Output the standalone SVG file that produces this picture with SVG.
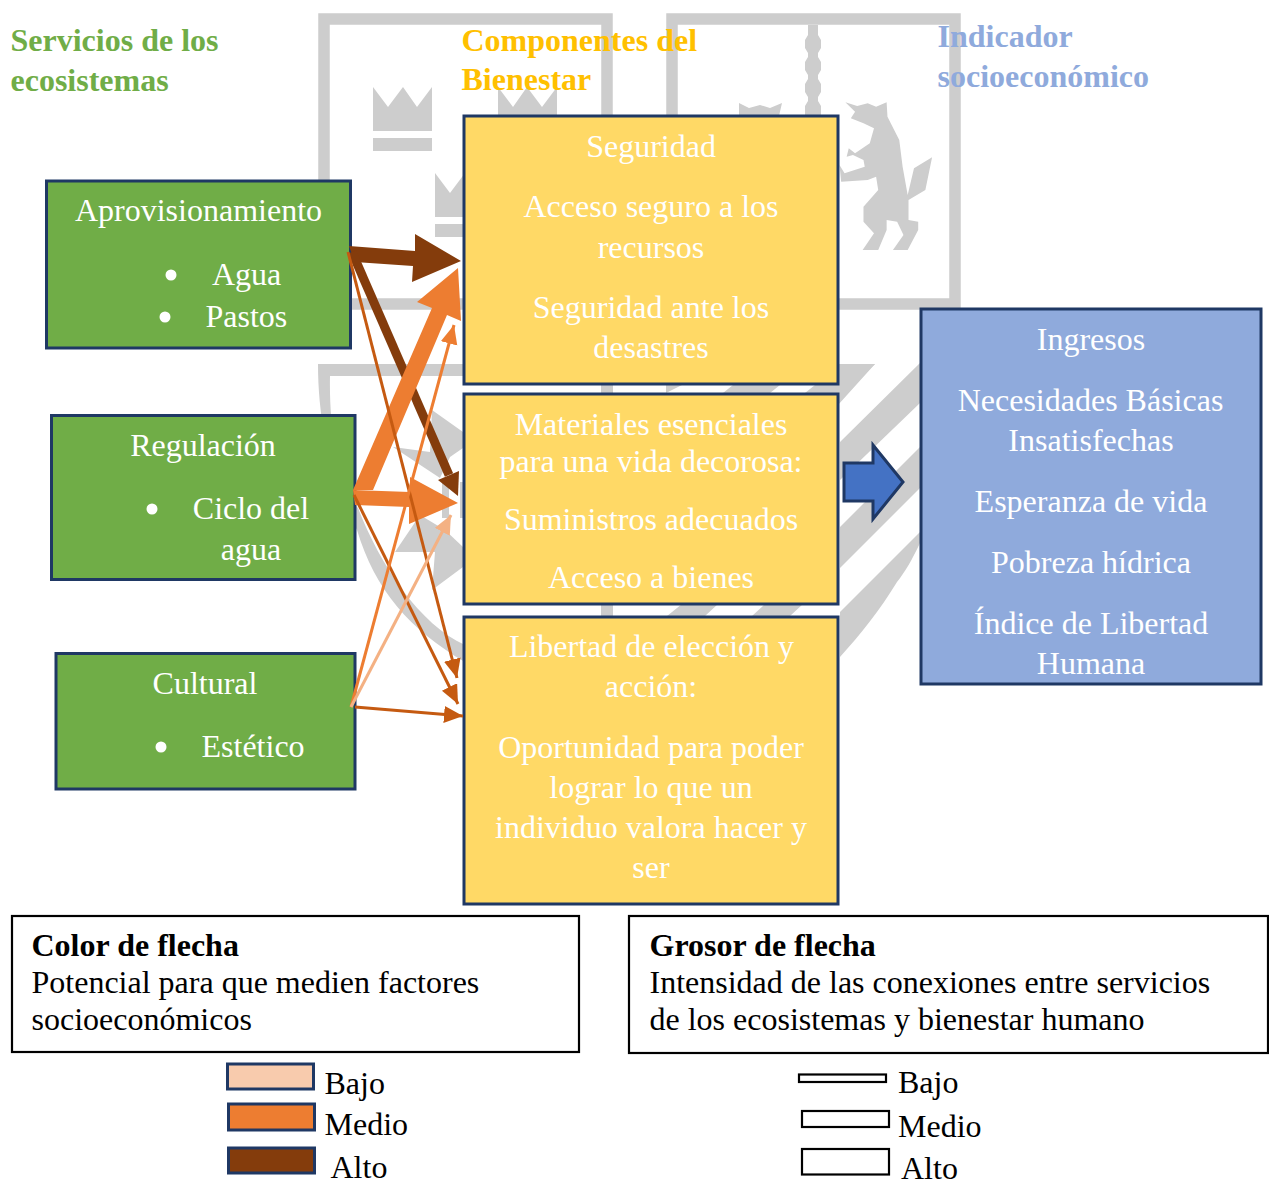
<svg xmlns="http://www.w3.org/2000/svg" width="1269" height="1179" viewBox="0 0 1269 1179">
<style>
text{font-family:"Liberation Serif","Times New Roman",serif}
.t{font-size:32px;fill:#fff}
.m{text-anchor:middle}
.h{font-size:32px;font-weight:700}
.l{font-size:32px;fill:#000}
.b{stroke:#1f3864;stroke-width:3}
.g{fill:#70ad47}.y{fill:#ffd966}.s{fill:#8faadc}
.w{fill:#cdcdcd}
.f{fill:none;stroke:#cdcdcd;stroke-width:11.5}
.k{fill:#fff;stroke:#000;stroke-width:2.2}
.c1{stroke:#c55a11;stroke-width:3;marker-end:url(#mc)}
.c2{stroke:#ed7d31;stroke-width:3;marker-end:url(#mo)}
.c3{stroke:#f4b183;stroke-width:3;marker-end:url(#ml)}
</style>
<defs>
<marker id="mc" markerUnits="userSpaceOnUse" markerWidth="20" markerHeight="18" refX="19" refY="8.5" orient="auto"><path d="M0 0L19 8.5L0 17Z" fill="#c55a11"/></marker>
<marker id="mo" markerUnits="userSpaceOnUse" markerWidth="20" markerHeight="18" refX="19" refY="8.5" orient="auto"><path d="M0 0L19 8.5L0 17Z" fill="#ed7d31"/></marker>
<marker id="ml" markerUnits="userSpaceOnUse" markerWidth="20" markerHeight="18" refX="19" refY="8.5" orient="auto"><path d="M0 0L19 8.5L0 17Z" fill="#f4b183"/></marker>
</defs>
<rect width="1269" height="1179" fill="#fff"/>
<g id="watermark">
<rect class="f" x="324" y="19" width="283" height="285"/>
<rect class="f" x="672" y="19" width="283" height="285"/>
<path class="w" d="M373 87L388 107L403 87L417 107L432 87V131H373ZM373 138H432V151H373ZM498 87L513 107L527 87L542 107L557 87V131H498ZM435 173L450 193L465 173V217H435ZM435 224H465V237H435Z"/>
<path class="w" d="M808 25H818V35L821 40V48L818 53V57L821 62V70L818 75V79L821 84V92L818 97V101L821 106V115H805V106L808 101V97L805 92V84L808 79V75L805 70V62L808 57V53L805 48V40L808 35Z"/>
<path class="w" transform="translate(310 0) scale(.4209 .3333)" d="M1272 307L1300 318L1325 310L1345 320L1370 307L1372 350L1400 420L1408 500L1420 585L1435 505L1478 472L1462 570L1422 600L1422 660L1445 665L1445 690L1420 750H1385L1410 705L1395 665L1370 660V690L1350 750H1313L1340 700L1315 665V620L1350 570L1345 530L1325 540L1262 545L1258 495L1270 520L1318 500L1315 480L1290 465L1275 470L1280 445L1295 460L1330 430L1340 385L1315 370L1285 355L1295 335Z"/>
<path class="w" d="M739 103L749 108L760 105L770 108L782 103L779 116H739Z"/>
<path class="w" d="M318 364H875L838 405V376H330C329 420 336 490 358 508C380 565 420 625 465 645V662C410 630 375 590 357 530C330 480 318 420 318 364Z"/>
<path class="w" d="M601 376H613V620H601ZM666 393L682 385H666ZM723 393L733 385H780L770 393ZM805 393L815 385H838V393ZM667 616L682 604H718L705 616ZM752 616L765 604H803L790 616Z"/>
<path class="w" d="M432 410L463 432V448L450 457L440 478L393 447L430 452ZM395 552L420 515L445 530L463 547V567L432 590L435 552ZM442 480H449V518H442ZM460 482H465V518H460Z"/>
<path class="w" d="M840 364H875L840 397ZM920 363V403L840 480V442ZM920 447V488L840 568V527ZM920 532V543C912 560 905 572 897 582C880 610 860 635 840 657V612Z"/>
</g>
<g id="titles">
<text class="h" x="10.500" y="51" fill="#70ad47">Servicios de los</text>
<text class="h" x="10.500" y="91" fill="#70ad47">ecosistemas</text>
<text class="h" x="461.500" y="51" fill="#ffc000">Componentes del</text>
<text class="h" x="461.500" y="90" fill="#ffc000">Bienestar</text>
<text class="h" x="937.500" y="47" fill="#8faadc">Indicador</text>
<text class="h" x="937.500" y="87" fill="#8faadc">socioeconómico</text>
</g>
<g id="aprovisionamiento">
<rect class="g b" x="46.500" y="181" width="304" height="167"/>
<text class="t m" x="198.500" y="221">Aprovisionamiento</text>
<circle cx="171" cy="275" r="5.500" fill="#fff"/><text class="t" x="212" y="285">Agua</text>
<circle cx="165" cy="317" r="5.500" fill="#fff"/><text class="t" x="205.500" y="327">Pastos</text>
</g>
<g id="regulacion">
<rect class="g b" x="51.500" y="415.500" width="303.500" height="164"/>
<text class="t m" x="203" y="456">Regulación</text>
<circle cx="152" cy="509" r="5.500" fill="#fff"/><text class="t m" x="251" y="519">Ciclo del</text>
<text class="t m" x="251" y="559.500">agua</text>
</g>
<g id="cultural">
<rect class="g b" x="56" y="653.500" width="299" height="135.500"/>
<text class="t m" x="205" y="693.500">Cultural</text>
<circle cx="161" cy="747" r="5.500" fill="#fff"/><text class="t" x="201.500" y="757">Estético</text>
</g>
<g id="seguridad">
<rect class="y b" x="464" y="116" width="374" height="268"/>
<text class="t m" x="651" y="157">Seguridad</text>
<text class="t m" x="651" y="217">Acceso seguro a los</text>
<text class="t m" x="651" y="257.500">recursos</text>
<text class="t m" x="651" y="318">Seguridad ante los</text>
<text class="t m" x="651" y="358">desastres</text>
</g>
<g id="materiales">
<rect class="y b" x="464" y="394" width="374" height="210"/>
<text class="t m" x="651" y="435">Materiales esenciales</text>
<text class="t m" x="651" y="472">para una vida decorosa:</text>
<text class="t m" x="651" y="530">Suministros adecuados</text>
<text class="t m" x="651" y="588">Acceso a bienes</text>
</g>
<g id="libertad">
<rect class="y b" x="464" y="617" width="374" height="287"/>
<text class="t m" x="651.500" y="657">Libertad de elección y</text>
<text class="t m" x="651" y="697">acción:</text>
<text class="t m" x="651" y="758">Oportunidad para poder</text>
<text class="t m" x="651" y="798">lograr lo que un</text>
<text class="t m" x="651" y="838">individuo valora hacer y</text>
<text class="t m" x="651" y="877.500">ser</text>
</g>
<g id="indicadores">
<rect class="s b" x="921" y="309" width="340" height="375"/>
<text class="t m" x="1091" y="350">Ingresos</text>
<text class="t m" x="1090.500" y="411">Necesidades Básicas</text>
<text class="t m" x="1091" y="451">Insatisfechas</text>
<text class="t m" x="1091" y="512">Esperanza de vida</text>
<text class="t m" x="1091" y="573">Pobreza hídrica</text>
<text class="t m" x="1091" y="634">Índice de Libertad</text>
<text class="t m" x="1091" y="674">Humana</text>
</g>
<g id="flecha-indicador">
<path fill="#4472c4" stroke="#1f3864" stroke-width="3" d="M844 463H873V445L903 482L873 519V501H844Z"/>
</g>
<g id="connectors">
<path fill="#843c0c" d="M349 246L415 251V234L461 261L412 282L413 266L355 262Z"/>
<path fill="none" stroke="#843c0c" stroke-width="9" d="M352 252L449 475"/>
<path fill="#843c0c" d="M438 480L459 471L458 496Z"/>
<path fill="#ed7d31" d="M353 490L432 308L417 302L458 268L461 321L447 315L373 490Z"/>
<path fill="#ed7d31" d="M353 490L410 492V477L458 503L409 524V507L355 505Z"/>
<line class="c1" x1="348" y1="252" x2="457" y2="678"/>
<line class="c1" x1="354" y1="495" x2="458" y2="704"/>
<line class="c1" x1="355" y1="707" x2="463" y2="716"/>
<line class="c2" x1="351" y1="707" x2="454" y2="325"/>
<line class="c3" x1="351" y1="707" x2="451" y2="515"/>
</g>
<g id="leyenda-color">
<rect class="k" x="12" y="916" width="567" height="136"/>
<text class="l" x="31.500" y="956" font-weight="700">Color de flecha</text>
<text class="l" x="31.500" y="993">Potencial para que medien factores</text>
<text class="l" x="31.500" y="1030">socioeconómicos</text>
<rect x="227.500" y="1064" width="86" height="25" fill="#f8cbad" class="b"/>
<text class="l" x="324.500" y="1094">Bajo</text>
<rect x="228.500" y="1104" width="86" height="26" fill="#ed7d31" class="b"/>
<text class="l" x="324.500" y="1135">Medio</text>
<rect x="228.500" y="1148" width="86" height="25" fill="#843c0c" class="b"/>
<text class="l" x="330.500" y="1178">Alto</text>
</g>
<g id="leyenda-grosor">
<rect class="k" x="629" y="916" width="639" height="137"/>
<text class="l" x="649.500" y="956" font-weight="700">Grosor de flecha</text>
<text class="l" x="649.500" y="993">Intensidad de las conexiones entre servicios</text>
<text class="l" x="649.500" y="1030">de los ecosistemas y bienestar humano</text>
<rect class="k" x="799" y="1074.500" width="87" height="7.500" stroke-width="3"/>
<text class="l" x="898" y="1093">Bajo</text>
<rect class="k" x="802" y="1111" width="87" height="16"/>
<text class="l" x="898" y="1137">Medio</text>
<rect class="k" x="802" y="1149" width="87" height="25.500"/>
<text class="l" x="901" y="1179">Alto</text>
</g>
</svg>
